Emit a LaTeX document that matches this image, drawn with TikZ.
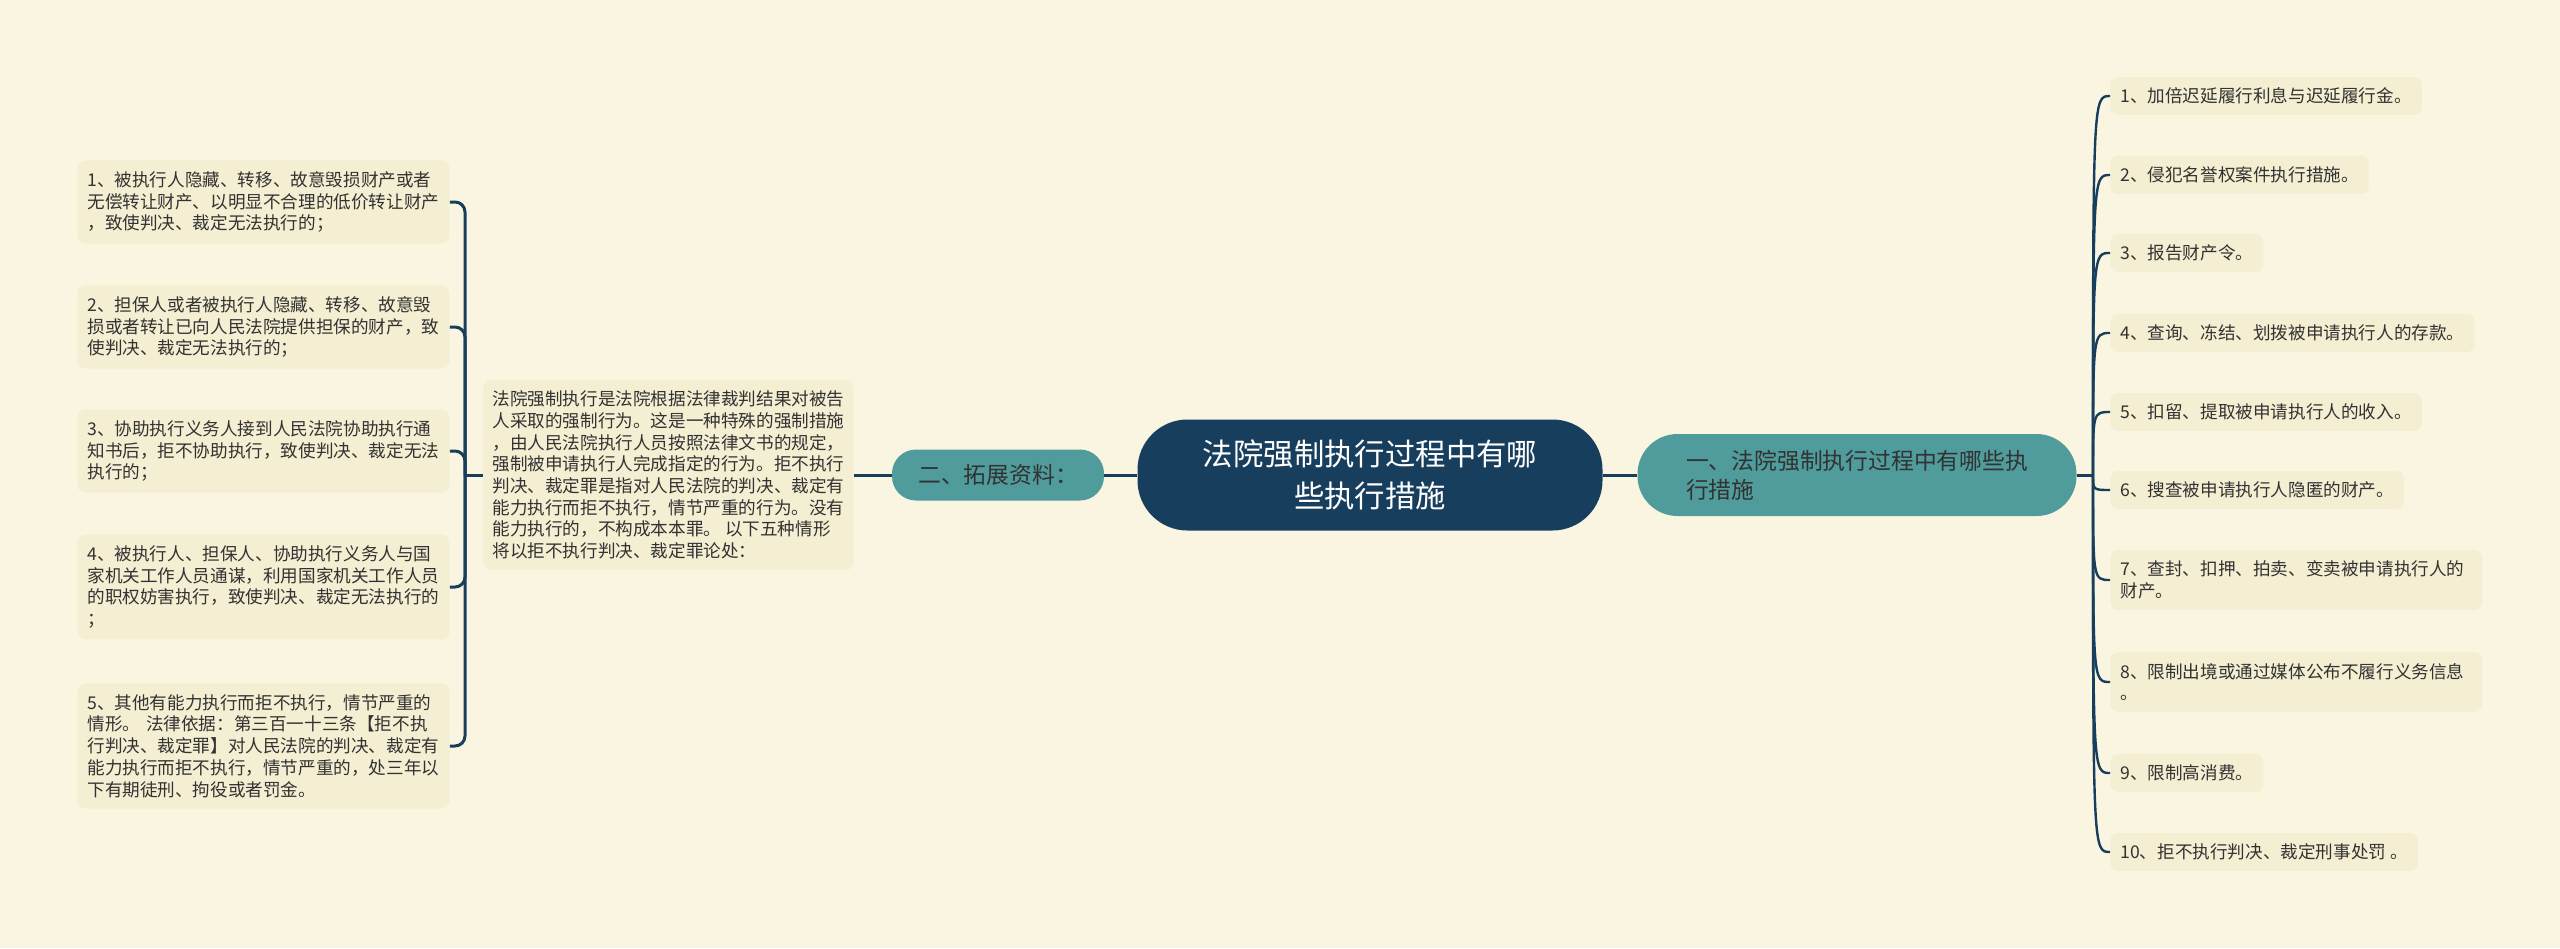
\documentclass[tikz,border=0pt]{standalone}
\usepackage{fontspec}
\setmainfont{Noto Sans CJK SC}
\usepackage{tikz}
\usetikzlibrary{calc, positioning}
\usepackage{xcolor}
\definecolor{bgcream}{RGB}{250,245,225}
\definecolor{leaffill}{RGB}{244,238,210}
\definecolor{rootblue}{RGB}{24,62,93}
\definecolor{topicteal}{RGB}{80,155,155}
\definecolor{textgray}{RGB}{50,50,50}

\begin{document}
\begin{tikzpicture}[x=0.5pt, y=-0.5pt]
    \tikzset{
        root/.style={fill=rootblue, rounded corners=25pt, text=white, align=center, minimum width=232.5pt, minimum height=55.5pt, font=\fontsize{15.2pt}{21.2pt}\selectfont},
        topic/.style={fill=topicteal, text=textgray, align=left, font=\fontsize{11.4pt}{14.7pt}\selectfont},
        leaf/.style={fill=leaffill, rounded corners=4pt, text=textgray, align=left, anchor=west, inner xsep=5pt, inner ysep=5.5pt, font=\fontsize{8.8pt}{10.85pt}\selectfont},
        wideleaf/.style={leaf, text width=176pt},
        link/.style={draw=rootblue, line width=1.5pt},
        fan/.style={draw=rootblue, line width=1.2pt}
    }

    \fill[bgcream] (0,0) rectangle (2560,948);

    \node[root] (root) at (1370,475) {法院强制执行过程中有哪\\些执行措施};
    \node[topic, rounded corners=20pt, minimum width=219.5pt, minimum height=41pt] (t1) at (1857,475) {一、法院强制执行过程中有哪些执\\行措施};
    \node[topic, rounded corners=12pt, minimum width=106pt, minimum height=25.5pt] (t2) at (998,475) {二、拓展资料：};

    \draw[link] (root) -- (t1);
    \draw[link] (root) -- (t2);

    \begin{scope}[local bounding box=leftside]
        \node[leaf, inner xsep=4.5pt] (desc) at (483,475) {法院强制执行是法院根据法律裁判结果对被告\\人采取的强制行为。这是一种特殊的强制措施\\，由人民法院执行人员按照法律文书的规定，\\强制被申请执行人完成指定的行为。拒不执行\\判决、裁定罪是指对人民法院的判决、裁定有\\能力执行而拒不执行，情节严重的行为。没有\\能力执行的，不构成本本罪。 以下五种情形\\将以拒不执行判决、裁定罪论处：};

        \node[wideleaf] (l1) at (77,202) {1、被执行人隐藏、转移、故意毁损财产或者\\无偿转让财产、以明显不合理的低价转让财产\\，致使判决、裁定无法执行的；};
        \node[wideleaf] (l2) at (77,327) {2、担保人或者被执行人隐藏、转移、故意毁\\损或者转让已向人民法院提供担保的财产，致\\使判决、裁定无法执行的；};
        \node[wideleaf] (l3) at (77,451) {3、协助执行义务人接到人民法院协助执行通\\知书后，拒不协助执行，致使判决、裁定无法\\执行的；};
        \node[wideleaf] (l4) at (77,587) {4、被执行人、担保人、协助执行义务人与国\\家机关工作人员通谋，利用国家机关工作人员\\的职权妨害执行，致使判决、裁定无法执行的\\；};
        \node[wideleaf] (l5) at (77,746) {5、其他有能力执行而拒不执行，情节严重的\\情形。 法律依据：第三百一十三条【拒不执\\行判决、裁定罪】对人民法院的判决、裁定有\\能力执行而拒不执行，情节严重的，处三年以\\下有期徒刑、拘役或者罚金。};

        \coordinate (lj) at (465,475);
        \draw[link] (t2) -- (desc);
        \draw[link] (desc.west) -- (lj);
        \foreach \i in {1,...,5} {
            \draw[link, rounded corners=5pt] (lj) |- (l\i.east);
        }
    \end{scope}

    \begin{scope}[local bounding box=rightside]
        \node[leaf] (r1) at (2110,96) {1、加倍迟延履行利息与迟延履行金。};
        \node[leaf] (r2) at (2110,175) {2、侵犯名誉权案件执行措施。};
        \node[leaf] (r3) at (2110,253) {3、报告财产令。};
        \node[leaf] (r4) at (2110,333) {4、查询、冻结、划拨被申请执行人的存款。};
        \node[leaf] (r5) at (2110,412) {5、扣留、提取被申请执行人的收入。};
        \node[leaf] (r6) at (2110,490) {6、搜查被申请执行人隐匿的财产。};
        \node[wideleaf] (r7) at (2110,580) {7、查封、扣押、拍卖、变卖被申请执行人的\\财产。};
        \node[wideleaf] (r8) at (2110,682) {8、限制出境或通过媒体公布不履行义务信息\\。};
        \node[leaf] (r9) at (2110,773) {9、限制高消费。};
        \node[leaf] (r10) at (2110,852) {10、拒不执行判决、裁定刑事处罚 。};

        \coordinate (rj) at (2093,475);
        \draw[link] (t1) -- (rj);
        \foreach \i in {1,...,10} {
            \draw[fan] (rj) .. controls (rj |- r\i.west) .. (r\i.west);
        }
    \end{scope}
\end{tikzpicture}
\end{document}
